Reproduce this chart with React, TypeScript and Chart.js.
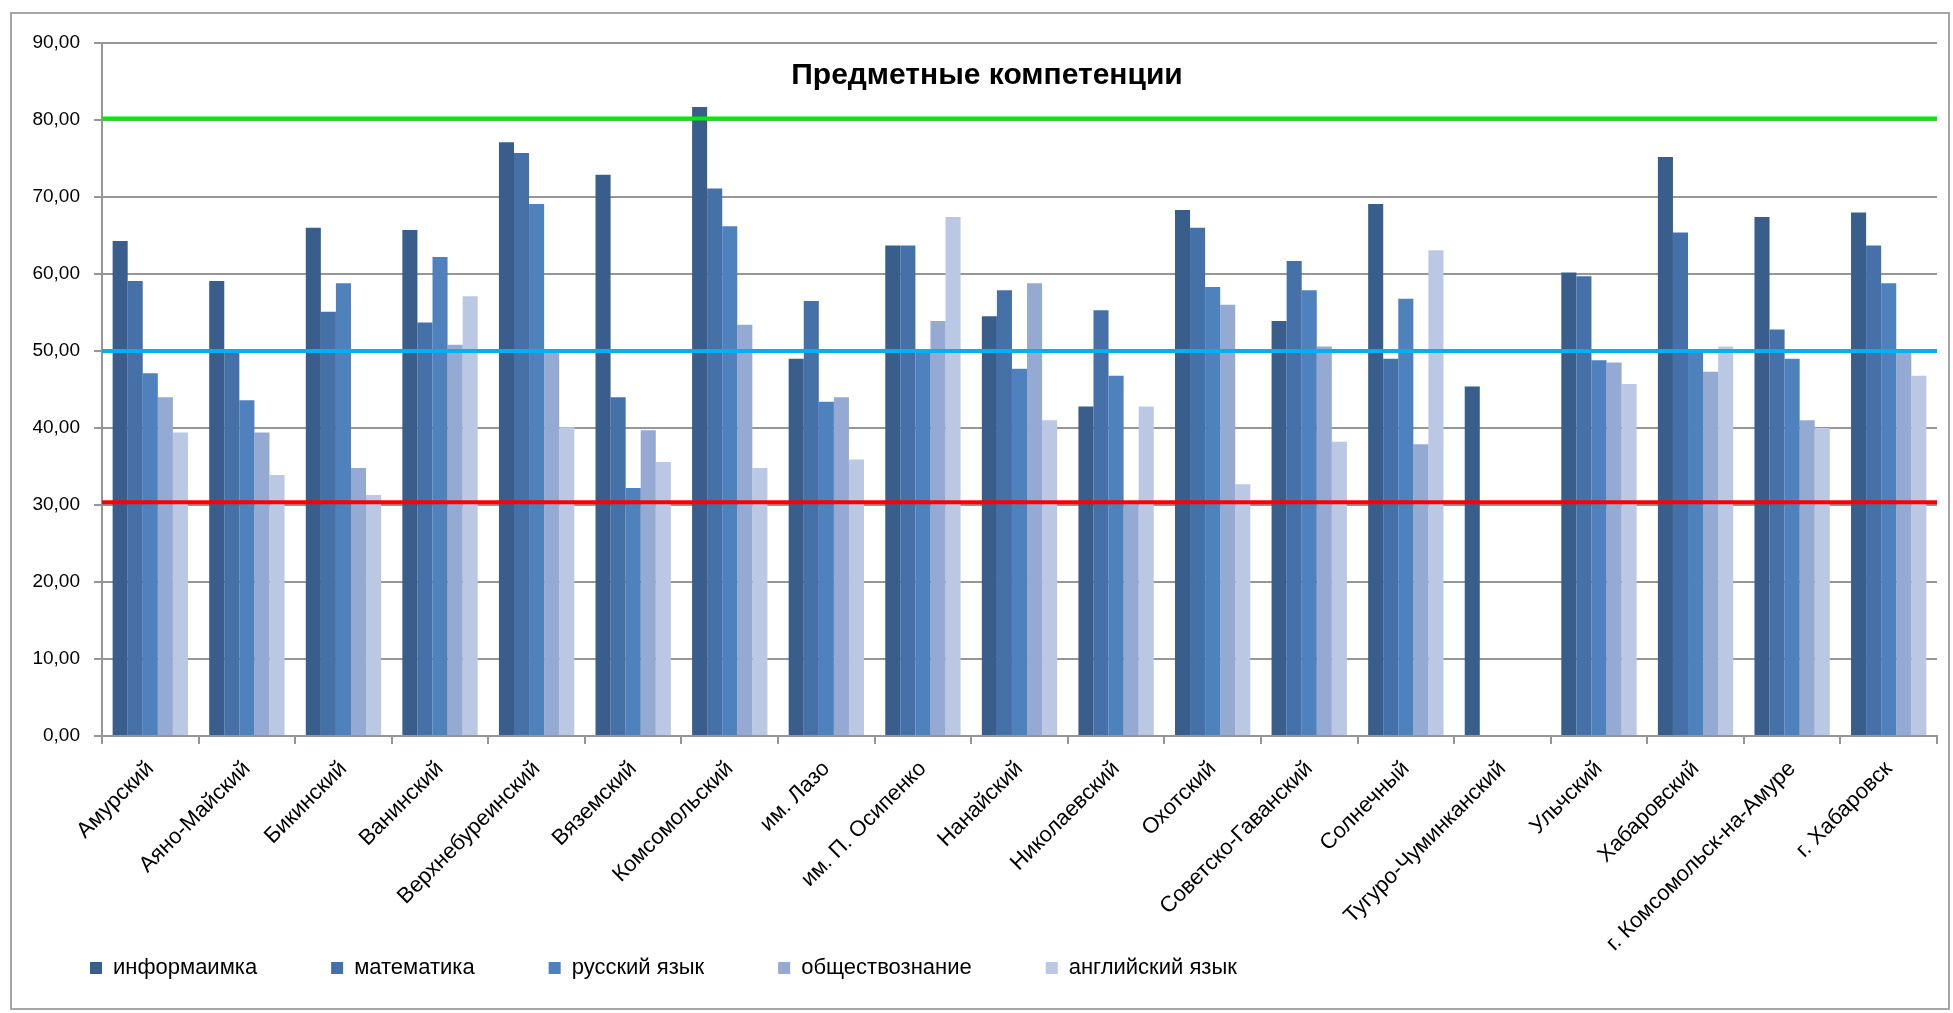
import React, { useEffect, useRef } from 'react';
import { Chart, registerables } from 'chart.js';

Chart.register(...registerables);

const titleText = 'Предметные компетенции';

const categories = [
  'Амурский',
  'Аяно-Майский',
  'Бикинский',
  'Ванинский',
  'Верхнебуреинский',
  'Вяземский',
  'Комсомольский',
  'им. Лазо',
  'им. П. Осипенко',
  'Нанайский',
  'Николаевский',
  'Охотский',
  'Советско-Гаванский',
  'Солнечный',
  'Тугуро-Чуминканский',
  'Ульчский',
  'Хабаровский',
  'г. Комсомольск-на-Амуре',
  'г. Хабаровск',
];

const seriesNames = ['информаимка', 'математика', 'русский язык', 'обществознание', 'английский язык'];

const informatika = [64.3, 59.1, 66.0, 65.7, 77.1, 72.9, 81.7, 49.0, 63.7, 54.5, 42.8, 68.3, 53.9, 69.1, 45.4, 60.2, 75.2, 67.4, 68.0];
const matematika = [59.1, 49.8, 55.1, 53.7, 75.7, 44.0, 71.1, 56.5, 63.7, 57.9, 55.3, 66.0, 61.7, 49.0, null, 59.7, 65.4, 52.8, 63.7];
const russkiy = [47.1, 43.6, 58.8, 62.2, 69.1, 32.2, 66.2, 43.4, 50.1, 47.7, 46.8, 58.3, 57.9, 56.8, null, 48.8, 49.9, 49.0, 58.8];
const obshchestvo = [44.0, 39.4, 34.8, 50.8, 49.8, 39.7, 53.4, 44.0, 53.9, 58.8, 30.4, 56.0, 50.6, 37.9, null, 48.5, 47.3, 41.0, 49.8];
const angliyskiy = [39.4, 33.9, 31.3, 57.1, 40.1, 35.6, 34.8, 35.9, 67.4, 41.0, 42.8, 32.7, 38.2, 63.1, null, 45.7, 50.6, 40.0, 46.8];

const seriesColors = ['#3a5e8c', '#4571a8', '#4f81bd', '#95aad3', '#bac8e3'];

const yMin = 0;
const yMax = 90;
const yStep = 10;

const thresholdValues = [80.2, 50, 30.35];
const thresholdColors = ['#00ee00', '#00b0f0', '#ff0000'];

const FONT = 'Liberation Sans';

const thresholdPlugin = {
  id: 'thresholdLines',
  afterDatasetsDraw(chart: any) {
    const { ctx, chartArea, scales } = chart;
    ctx.save();
    thresholdValues.forEach((v, i) => {
      const y = scales.y.getPixelForValue(v);
      ctx.beginPath();
      ctx.strokeStyle = thresholdColors[i];
      ctx.lineWidth = 4;
      ctx.moveTo(chartArea.left, y);
      ctx.lineTo(chartArea.right, y);
      ctx.stroke();
    });
    ctx.restore();
  },
};

const titlePlugin = {
  id: 'innerTitle',
  afterDraw(chart: any) {
    const { ctx } = chart;
    ctx.save();
    ctx.font = `bold 30px "${FONT}"`;
    ctx.fillStyle = '#000';
    ctx.textAlign = 'center';
    ctx.textBaseline = 'middle';
    ctx.fillText(titleText, 987, 76);
    ctx.restore();
  },
};

export default function App() {
  const canvasRef = useRef<HTMLCanvasElement | null>(null);

  useEffect(() => {
    if (!canvasRef.current) return;
    const data = [informatika, matematika, russkiy, obshchestvo, angliyskiy];
    const chart = new Chart(canvasRef.current, {
      type: 'bar',
      data: {
        labels: categories,
        datasets: data.map((d, i) => ({
          label: seriesNames[i],
          data: d,
          backgroundColor: seriesColors[i],
          borderWidth: 0,
          barPercentage: 1,
          categoryPercentage: 0.78,
        })),
      },
      options: {
        responsive: false,
        animation: false,
        devicePixelRatio: 1,
        layout: { padding: { left: 16, right: 16, top: 43, bottom: 24 } },
        font: { family: FONT },
        plugins: {
          title: { display: false },
          tooltip: { enabled: false },
          legend: {
            position: 'bottom',
            align: 'start',
            labels: {
              boxWidth: 12,
              boxHeight: 12,
              padding: 74,
              color: '#000',
              font: { family: FONT, size: 22 },
            },
          },
        },
        scales: {
          x: {
            grid: {
              drawOnChartArea: false,
              drawTicks: true,
              tickLength: 8,
              offset: true,
              color: '#969696',
              lineWidth: 2,
            },
            border: { color: '#969696', width: 2 },
            ticks: {
              maxRotation: 45,
              minRotation: 45,
              autoSkip: false,
              padding: 12,
              color: '#000',
              font: { family: FONT, size: 22 },
            },
            afterFit(scale: any) {
              scale.height = 147;
              scale._computeLabelArea = () => undefined;
            },
          },
          y: {
            min: yMin,
            max: yMax,
            ticks: {
              stepSize: yStep,
              padding: 14,
              color: '#000',
              font: { family: FONT, size: 19 },
              callback: (v: any) => Number(v).toFixed(2).replace('.', ','),
            },
            grid: { color: '#969696', lineWidth: 2, tickLength: 8 },
            border: { color: '#969696', width: 2 },
            afterFit(scale: any) {
              scale.width = 86;
            },
          },
        },
      },
      plugins: [thresholdPlugin, titlePlugin],
    });
    return () => chart.destroy();
  }, []);

  return (
    <div style={{ position: 'fixed', left: 0, top: 0, width: 1953, height: 1013, background: '#fff' }}>
      <canvas ref={canvasRef} width={1953} height={1013} style={{ display: 'block' }} />
      <div
        style={{
          position: 'absolute',
          left: 10,
          top: 12,
          width: 1953 - 10 - 3,
          height: 1013 - 12 - 3,
          border: '2px solid #a6a6a6',
          boxSizing: 'border-box',
          pointerEvents: 'none',
        }}
      />
    </div>
  );
}
